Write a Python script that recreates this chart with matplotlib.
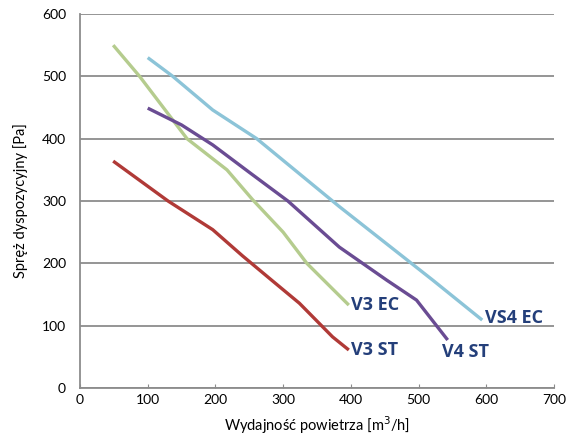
import matplotlib.pyplot as plt

# Data (flow m3/h, pressure Pa)
v3st_x = [49, 130, 196, 240, 283, 324, 373, 397]
v3st_y = [364, 300, 254, 212, 173, 136, 82, 61]

v3ec_x = [49, 88, 158, 217, 255, 300, 335, 397]
v3ec_y = [550, 500, 400, 350, 302, 250, 200, 133]

v4st_x = [100, 150, 196, 250, 307, 383, 453, 497, 543]
v4st_y = [449, 422, 390, 346, 300, 226, 173, 141, 77]

vs4ec_x = [100, 137, 196, 261, 383, 521, 594]
vs4ec_y = [530, 500, 446, 400, 291, 173, 109]

series = [
    ("V3 ST", v3st_x, v3st_y, "#B03A37"),
    ("V3 EC", v3ec_x, v3ec_y, "#B5CC8E"),
    ("V4 ST", v4st_x, v4st_y, "#6A4C93"),
    ("VS4 EC", vs4ec_x, vs4ec_y, "#8CC4D8"),
]

# label anchor positions (data coords)
labels = {
    "V3 EC": (400, 133),
    "V3 ST": (400, 61),
    "V4 ST": (535, 58),
    "VS4 EC": (598, 113),
}

plt.rcParams['font.family'] = ['Lato', 'DejaVu Sans']

fig = plt.figure(figsize=(5.81, 4.37), dpi=100)
ax = fig.add_axes([80 / 581, 1 - 388 / 437, 474 / 581, 374 / 437])

for name, xs, ys, col in series:
    ax.plot(xs, ys, color=col, lw=2.4, solid_capstyle='butt', zorder=3)
    lx, ly = labels[name]
    ax.text(lx, ly, name, color="#243F7A", fontsize=13, fontweight='bold',
            family=['Open Sans', 'DejaVu Sans'], va='center', ha='left', zorder=4)

ax.set_xlim(0, 700)
ax.set_ylim(0, 600)
ax.set_xticks(range(0, 701, 100))
ax.set_yticks(range(0, 601, 100))
ax.yaxis.grid(True, color="#8C8C8C", lw=1.3)
ax.set_axisbelow(True)
for s in ['top', 'right']:
    ax.spines[s].set_visible(False)
for s in ['left', 'bottom']:
    ax.spines[s].set_color("#8C8C8C")
    ax.spines[s].set_linewidth(1.3)
ax.tick_params(axis='x', direction='in', length=3, color="#8C8C8C", labelsize=10, pad=4)
ax.tick_params(axis='y', length=0, labelsize=10, pad=10)

ax.set_xlabel("Wydajność powietrza [m$^3$/h]", fontsize=10.5, labelpad=6)
ax.set_ylabel("Spręż dyspozycyjny [Pa]", fontsize=10.5, labelpad=10)

fig.savefig("out.png", dpi=100)
